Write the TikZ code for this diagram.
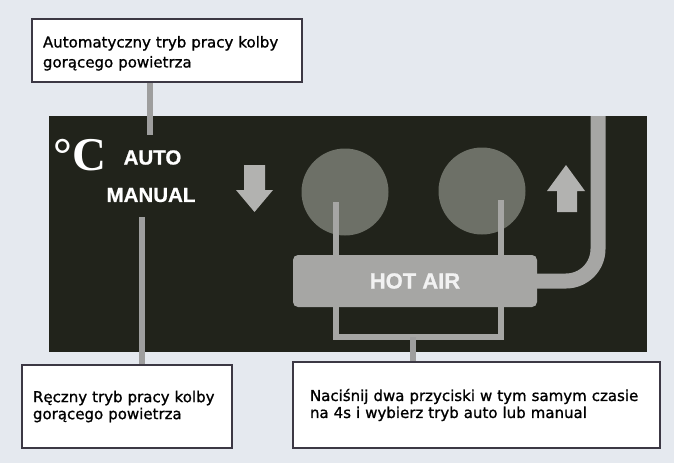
\documentclass[tikz,border=0pt]{standalone}
\usepackage{fontspec}
\setmainfont{DejaVu Sans}
\newfontfamily\calloutfont{DejaVu Sans}[FakeBold=1.1]
\newfontfamily\labelsans{Liberation Sans}[FakeBold=0.8]
\newfontfamily\labelserif{Liberation Serif}
\definecolor{bgcol}{HTML}{E5E9EF}
\definecolor{panelcol}{HTML}{21231B}
\definecolor{greycol}{HTML}{A6A6A4}
\definecolor{linkcol}{HTML}{9E9E9E}
\definecolor{knobcol}{HTML}{6D7067}
\definecolor{arrowcol}{HTML}{B2B2B0}
\definecolor{framecol}{HTML}{3C3844}
\tikzset{
  callout/.style={draw=framecol, line width=2.2pt, fill=white, rectangle, inner xsep=0pt, align=left, font=\calloutfont\fontsize{15}{17}\selectfont},
  link/.style={draw=linkcol, line width=6pt},
  panellink/.style={draw=greycol, line width=6pt},
  knob/.style={circle, fill=knobcol, minimum size=87pt, inner sep=0pt},
  panellabel/.style={text=white, font=\labelsans\bfseries\fontsize{20.5}{21}\selectfont, inner sep=0pt},
  arrowshape/.style={fill=arrowcol}
}
\begin{document}
\begin{tikzpicture}[x=1pt,y=-1pt]
\useasboundingbox (0,0) rectangle (674,463);
\fill[bgcol] (0,0) rectangle (674,463);
% panel
\fill[panelcol] (49,116) rectangle (647,352);
% knobs
\node[knob] (b1) at (345,192) {};
\node[knob] (b2) at (482,191) {};
% bracket lines
\coordinate (k1) at (336,202);
\coordinate (k2) at (501,200);
\coordinate (kb) at (413,337);
\draw[panellink, line join=miter] (k1) -- (k1 |- kb) -- (k2 |- kb) -- (k2);
% hot air box
\node[fill=greycol, rounded corners=5pt, minimum width=244pt, minimum height=52pt, inner sep=0pt,
      text=white!95!black, font=\labelsans\bfseries\fontsize{22}{22}\selectfont] (hot) at (415,281) {HOT AIR};
% hose
\coordinate (hosetop) at (598,116);
\draw[draw=greycol, line width=15pt, rounded corners=32pt] (hot.east) -- (hot.east -| hosetop) -- (hosetop);
% arrows
\fill[arrowshape] (244,165) -- (265,165) -- (265,190) -- (273,190) -- (254.5,212) -- (236,190) -- (244,190) -- cycle;
\fill[arrowshape] (557,212) -- (577,212) -- (577,191) -- (585,191) -- (566,165) -- (547,191) -- (557,191) -- cycle;
% panel labels
\node[text=white, font=\labelserif\bfseries\fontsize{47}{47}\selectfont, inner sep=0pt] (deg) at (80,155) {°C};
\node[panellabel] (auto) at (152.5,157.5) {AUTO};
\node[panellabel] (manual) at (151,195) {MANUAL};
% callout boxes
\node[callout, minimum width=270pt, minimum height=63pt, text width=248pt, font=\calloutfont\fontsize{15}{20}\selectfont] (topbox) at (167,50.5)
  {\rule{0pt}{17pt}Automatyczny tryb pracy kolby\\gorącego powietrza};
\node[callout, minimum width=210pt, minimum height=83pt, text width=188pt] (leftbox) at (127,406.5)
  {Ręczny tryb pracy kolby\\gorącego powietrza};
\node[callout, minimum width=367pt, minimum height=86pt, text width=333pt] (rightbox) at (476.5,405)
  {Naciśnij dwa przyciski w tym samym czasie\\na 4s i wybierz tryb auto lub manual};
% connectors
\coordinate (c1) at (150,135);
\coordinate (c2) at (142,217);
\draw[link] (topbox.south -| c1) -- (c1);
\draw[link] (c2) -- (leftbox.north -| c2);
\draw[link] (kb) -- (rightbox.north -| kb);
\end{tikzpicture}
\end{document}
